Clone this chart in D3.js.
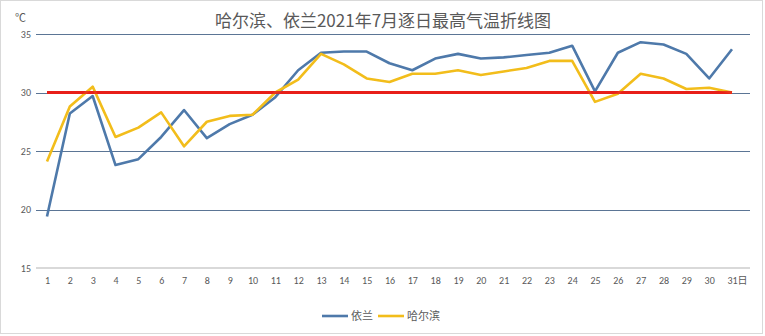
<!DOCTYPE html>
<html>
<head>
<meta charset="utf-8">
<script src="https://cdn.jsdelivr.net/npm/d3@7"></script>
<style>
  html, body { margin: 0; padding: 0; background: #fff; }
  svg { display: block; font-family: "Microsoft YaHei", "Noto Sans CJK SC", sans-serif; }
</style>
</head>
<body>
<svg id="chart" width="765" height="336"></svg>
<script>
// July 2021 daily maximum temperature (°C)
const days = d3.range(1, 32);
const dayLabels = days.map(d => d === 31 ? "31日" : String(d));
const yilan = [19.4, 28.2, 29.7, 23.8, 24.3, 26.2, 28.5, 26.1, 27.3, 28.1,
               29.6, 31.9, 33.4, 33.5, 33.5, 32.5, 31.9, 32.9, 33.3, 32.9,
               33.0, 33.2, 33.4, 34.0, 30.1, 33.4, 34.3, 34.1, 33.3, 31.2, 33.7];
const harbin = [24.1, 28.8, 30.5, 26.2, 27.0, 28.3, 25.4, 27.5, 28.0, 28.1,
                30.0, 31.1, 33.3, 32.4, 31.2, 30.9, 31.6, 31.6, 31.9, 31.5,
                31.8, 32.1, 32.7, 32.7, 29.2, 29.9, 31.6, 31.2, 30.3, 30.4, 30.0];
const threshold = days.map(() => 30);
const yTicks = [15, 20, 25, 30, 35];

const svg = d3.select("#chart");
const W = 765, H = 336;

// chart area border
svg.append("rect").attr("x", 0.5).attr("y", 0.5).attr("width", W - 3).attr("height", H - 3)
  .attr("fill", "#fff").attr("stroke", "#d9d9d9");

const plotLeft = 36, plotRight = 750;
const x = d3.scalePoint().domain(days).range([47, 732]);
const y = d3.scaleLinear().domain([15, 35]).range([268, 34]);

// gridlines
svg.append("g").selectAll("line").data(yTicks.filter(t => t !== 15)).join("line")
  .attr("x1", plotLeft).attr("x2", plotRight)
  .attr("y1", d => Math.round(y(d)) + 0.5).attr("y2", d => Math.round(y(d)) + 0.5)
  .attr("stroke", "#5b7595").attr("stroke-width", 1);

// category axis line
svg.append("line").attr("x1", plotLeft).attr("x2", plotRight)
  .attr("y1", y(15)).attr("y2", y(15))
  .attr("stroke", "#d9d9d9").attr("stroke-width", 2);

// value axis labels
const yAxis = d3.axisLeft(y).tickValues(yTicks).tickSize(0).tickPadding(5);
const gy = svg.append("g").attr("transform", `translate(${plotLeft},0)`).call(yAxis);
gy.select(".domain").remove();
gy.selectAll("text").attr("fill", "#595959").style("font-size", "10px")
  .style("font-family", "Calibri, Carlito, 'Liberation Sans', sans-serif");

// category axis labels
const xAxis = d3.axisBottom(x).tickFormat((d, i) => dayLabels[i]).tickSize(0).tickPadding(9);
const gx = svg.append("g").attr("transform", `translate(0,${y(15)})`).call(xAxis);
gx.select(".domain").remove();
gx.selectAll("text").attr("fill", "#595959").style("font-size", "10px")
  .style("font-family", "Calibri, Carlito, 'Liberation Sans', 'Noto Sans CJK SC', sans-serif")
  .attr("dx", (d) => d === 31 ? "5px" : 0);

// unit label
svg.append("text").attr("x", 15).attr("y", 22).attr("fill", "#595959")
  .style("font-size", "11px").text("℃");

// title
svg.append("text").attr("x", 383).attr("y", 27).attr("text-anchor", "middle")
  .attr("fill", "#595959").style("font-size", "17px")
  .text("哈尔滨、依兰2021年7月逐日最高气温折线图");

const line = d3.line().x((d, i) => x(days[i])).y(d => y(d));

svg.append("path").datum(threshold).attr("d", line)
  .attr("fill", "none").attr("stroke", "#e8201a").attr("stroke-width", 3);
svg.append("path").datum(yilan).attr("d", line)
  .attr("fill", "none").attr("stroke", "#4e79aa").attr("stroke-width", 2.6)
  .attr("stroke-linejoin", "round");
svg.append("path").datum(harbin).attr("d", line)
  .attr("fill", "none").attr("stroke", "#f2bd1b").attr("stroke-width", 2.6)
  .attr("stroke-linejoin", "round");
// keep the threshold visible on top of the crossing segments
svg.append("path").datum(threshold).attr("d", line)
  .attr("fill", "none").attr("stroke", "#e8201a").attr("stroke-width", 3).attr("opacity", 0.85);

// legend
const legend = [
  { name: "依兰", color: "#4e79aa", x: 322 },
  { name: "哈尔滨", color: "#f2bd1b", x: 378 }
];
const lg = svg.append("g").selectAll("g").data(legend).join("g")
  .attr("transform", d => `translate(${d.x},316)`);
lg.append("line").attr("x1", 0).attr("x2", 26).attr("stroke", d => d.color).attr("stroke-width", 2.6);
lg.append("text").attr("x", 29).attr("y", 4).attr("fill", "#595959")
  .style("font-size", "11px").text(d => d.name);
</script>
</body>
</html>
